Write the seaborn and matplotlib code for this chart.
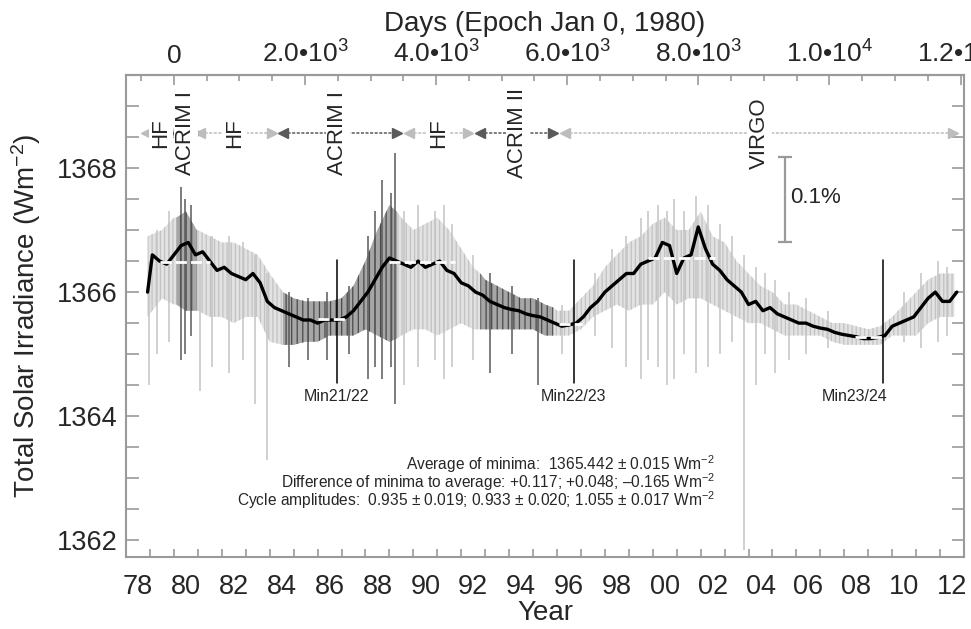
import numpy as np
import matplotlib
matplotlib.use("Agg")
import matplotlib.pyplot as plt
import seaborn as sns
from matplotlib.ticker import FixedLocator, MultipleLocator, NullFormatter

sns.set_style("white")
plt.rcParams["font.family"] = ["Liberation Sans", "DejaVu Sans"]
plt.rcParams["mathtext.fontset"] = "custom"
plt.rcParams["mathtext.rm"] = "Liberation Sans"
plt.rcParams["mathtext.it"] = "Liberation Sans:italic"
plt.rcParams["mathtext.bf"] = "Liberation Sans:bold"
plt.rcParams["hatch.linewidth"] = 0.9

# --- smoothed composite TSI (black line) ---
smooth_year = [1978.9, 1979.1, 1979.4, 1979.7, 1980.0, 1980.3, 1980.6, 1980.9,
               1981.2, 1981.5, 1981.8, 1982.1, 1982.4, 1982.7, 1983.0, 1983.3,
               1983.6, 1983.9, 1984.2, 1984.5, 1984.8, 1985.1, 1985.4, 1985.7,
               1986.0, 1986.3, 1986.6, 1986.9, 1987.2, 1987.5, 1987.8, 1988.1,
               1988.4, 1988.7, 1989.0, 1989.3, 1989.6, 1989.9, 1990.2, 1990.5,
               1990.8, 1991.1, 1991.4, 1991.7, 1992.0, 1992.3, 1992.6, 1992.9,
               1993.2, 1993.5, 1993.8, 1994.1, 1994.4, 1994.7, 1995.0, 1995.3,
               1995.6, 1995.9, 1996.2, 1996.5, 1996.8, 1997.1, 1997.4, 1997.7,
               1998.0, 1998.3, 1998.6, 1998.9, 1999.2, 1999.5, 1999.8, 2000.1,
               2000.4, 2000.7, 2001.0, 2001.3, 2001.6, 2001.9, 2002.2, 2002.5,
               2002.8, 2003.1, 2003.4, 2003.7, 2004.0, 2004.3, 2004.6, 2004.9,
               2005.2, 2005.5, 2005.8, 2006.1, 2006.4, 2006.7, 2007.0, 2007.3,
               2007.6, 2007.9, 2008.2, 2008.5, 2008.8, 2009.1, 2009.4, 2009.7,
               2010.0, 2010.3, 2010.6, 2010.9, 2011.2, 2011.5, 2011.8, 2012.1,
               2012.4, 2012.7]
smooth_tsi = [1366.0, 1366.6, 1366.5, 1366.45, 1366.6, 1366.75, 1366.8, 1366.6,
              1366.65, 1366.5, 1366.35, 1366.4, 1366.3, 1366.25, 1366.2, 1366.3,
              1366.15, 1365.85, 1365.75, 1365.7, 1365.65, 1365.6, 1365.55, 1365.55,
              1365.5, 1365.55, 1365.55, 1365.55, 1365.6, 1365.7, 1365.85, 1366.0,
              1366.2, 1366.4, 1366.55, 1366.5, 1366.45, 1366.4, 1366.5, 1366.4,
              1366.45, 1366.5, 1366.35, 1366.3, 1366.15, 1366.1, 1366.0, 1365.95,
              1365.85, 1365.8, 1365.75, 1365.72, 1365.7, 1365.65, 1365.62, 1365.6,
              1365.55, 1365.5, 1365.45, 1365.47, 1365.5, 1365.6, 1365.75, 1365.85,
              1366.0, 1366.1, 1366.2, 1366.3, 1366.3, 1366.45, 1366.5, 1366.55,
              1366.8, 1366.75, 1366.3, 1366.55, 1366.6, 1367.05, 1366.7, 1366.45,
              1366.35, 1366.2, 1366.1, 1366.0, 1365.8, 1365.85, 1365.7, 1365.75,
              1365.65, 1365.6, 1365.55, 1365.5, 1365.5, 1365.45, 1365.42, 1365.4,
              1365.35, 1365.32, 1365.3, 1365.28, 1365.25, 1365.25, 1365.27, 1365.3,
              1365.45, 1365.5, 1365.55, 1365.6, 1365.75, 1365.9, 1366.0, 1365.85,
              1365.85, 1366.0]

# --- spread of the daily values (grey band) ---
band_year = [1978.9, 1979.5, 1980.0, 1980.1, 1980.5, 1980.95, 1981.0, 1981.5, 1982.0,
             1982.5, 1983.0, 1983.5, 1984.0, 1984.55, 1985.0, 1985.5, 1986.0, 1986.5,
             1987.0, 1987.5, 1988.0, 1988.5, 1989.0, 1989.3, 1989.5, 1990.0, 1990.5,
             1991.0, 1991.5, 1992.0, 1992.5, 1992.8, 1993.0, 1993.5, 1994.0, 1994.5,
             1995.0, 1995.5, 1995.85, 1996.0, 1996.5, 1997.0, 1997.5, 1998.0, 1998.5,
             1999.0, 1999.5, 2000.0, 2000.5, 2001.0, 2001.5, 2002.0, 2002.5, 2003.0,
             2003.5, 2004.0, 2004.5, 2005.0, 2005.5, 2006.0, 2006.5, 2007.0, 2007.5,
             2008.0, 2008.5, 2009.0, 2009.5, 2010.0, 2010.5, 2011.0, 2011.5, 2012.0,
             2012.6]
band_high = [1366.9, 1367.0, 1367.2, 1367.2, 1367.3, 1367.0, 1367.0, 1366.9, 1366.8,
             1366.8, 1366.7, 1366.6, 1366.3, 1366.0, 1365.9, 1365.85, 1365.85, 1365.85,
             1365.9, 1366.1, 1366.5, 1367.0, 1367.4, 1367.3, 1367.2, 1367.0, 1367.1,
             1367.2, 1367.0, 1366.7, 1366.4, 1366.3, 1366.2, 1366.1, 1366.0, 1365.9,
             1365.9, 1365.8, 1365.75, 1365.7, 1365.7, 1365.9, 1366.1, 1366.4, 1366.6,
             1366.8, 1366.9, 1367.1, 1367.2, 1367.0, 1367.0, 1367.3, 1366.9, 1366.8,
             1366.5, 1366.3, 1366.1, 1366.0, 1365.8, 1365.8, 1365.7, 1365.6, 1365.5,
             1365.5, 1365.45, 1365.4, 1365.45, 1365.6, 1365.8, 1366.0, 1366.2, 1366.3,
             1366.3]
band_low = [1365.6, 1365.9, 1365.8, 1365.8, 1365.7, 1365.7, 1365.7, 1365.6, 1365.6,
            1365.5, 1365.6, 1365.6, 1365.2, 1365.15, 1365.15, 1365.2, 1365.2, 1365.3,
            1365.3, 1365.3, 1365.4, 1365.3, 1365.2, 1365.25, 1365.3, 1365.4, 1365.4,
            1365.3, 1365.4, 1365.5, 1365.4, 1365.4, 1365.4, 1365.4, 1365.4, 1365.4,
            1365.4, 1365.3, 1365.3, 1365.3, 1365.3, 1365.4, 1365.6, 1365.7, 1365.8,
            1365.7, 1365.8, 1365.8, 1366.0, 1365.8, 1365.9, 1365.9, 1365.8, 1365.7,
            1365.6, 1365.5, 1365.5, 1365.4, 1365.3, 1365.3, 1365.3, 1365.3, 1365.2,
            1365.15, 1365.15, 1365.15, 1365.15, 1365.3, 1365.3, 1365.3, 1365.5, 1365.6,
            1365.6]

# --- individual daily excursions (spikes) ---
spike_year = [1978.95, 1979.3, 1979.8, 1980.3, 1980.45, 1980.7, 1981.1, 1981.6,
              1982.3, 1982.9, 1983.4, 1983.9, 1984.8, 1985.6, 1986.4, 1987.3,
              1988.1, 1988.4, 1988.7, 1989.05, 1989.24, 1989.6, 1990.2, 1990.9,
              1991.3, 1991.6, 1992.5, 1993.2, 1994.1, 1995.2, 1996.2, 1997.6,
              1998.3, 1998.9, 1999.5, 1999.8, 2000.2, 2000.6, 2000.9, 2001.3,
              2001.8, 2002.3, 2002.8, 2003.3, 2003.83, 2004.3, 2004.7, 2005.1,
              2005.7, 2006.4, 2007.3, 2010.5, 2011.2, 2011.9, 2012.3]
spike_low = [1364.5, 1365.0, 1365.2, 1364.9, 1365.0, 1365.3, 1364.4, 1364.8,
             1364.7, 1364.9, 1364.2, 1363.3, 1364.8, 1364.9, 1364.9, 1365.0,
             1364.6, 1364.8, 1364.6, 1364.8, 1364.2, 1364.5, 1364.8, 1364.9,
             1364.6, 1364.8, 1364.9, 1364.7, 1365.0, 1364.5, 1365.0, 1365.3,
             1365.1, 1364.8, 1364.6, 1364.9, 1364.8, 1364.5, 1364.6, 1365.0,
             1364.7, 1364.8, 1365.0, 1365.2, 1361.85, 1364.5, 1365.0, 1364.7,
             1364.9, 1365.0, 1365.1, 1365.2, 1365.1, 1365.2, 1365.3]
spike_high = [1366.5, 1367.0, 1367.3, 1367.7, 1367.5, 1367.4, 1366.6, 1366.9,
              1366.9, 1366.8, 1366.6, 1366.3, 1366.0, 1365.9, 1366.0, 1366.1,
              1366.9, 1367.3, 1367.8, 1367.6, 1368.25, 1367.3, 1367.4, 1367.3,
              1367.4, 1367.1, 1366.6, 1366.3, 1366.1, 1365.9, 1365.8, 1366.3,
              1366.7, 1366.9, 1367.2, 1367.3, 1367.4, 1367.3, 1367.5, 1367.3,
              1367.55, 1367.4, 1367.1, 1366.9, 1366.6, 1366.4, 1366.3, 1366.2,
              1366.0, 1365.9, 1365.7, 1366.0, 1366.3, 1366.5, 1366.4]

# --- instruments used in the composite ---
instr_name = ["HF", "ACRIM I", "HF", "ACRIM I", "HF", "ACRIM II", "VIRGO"]
instr_start = [1978.85, 1980.1, 1981.1, 1984.55, 1989.8, 1992.8, 1996.35]
instr_end = [1980.1, 1980.95, 1984.1, 1989.3, 1992.3, 1995.85, 2012.55]
instr_label_x = [1979.45, 1980.5, 1982.55, 1986.85, 1991.05, 1994.35, 2004.47]
acrim_periods = [(1980.1, 1980.95), (1984.55, 1989.3), (1992.8, 1995.85)]

# --- solar minima and maxima levels ---
min_names = ["Min21/22", "Min22/23", "Min23/24"]
min_year = [1986.8, 1996.7, 2009.6]
min_label_x = [1986.8, 1996.7, 2008.45]
min_level = [1365.559, 1365.490, 1365.277]
min_span = [(1986.0, 1987.15), (1996.1, 1997.05), (2008.45, 2009.7)]
max_level = [1366.49, 1366.49, 1366.545]
max_span = [(1979.4, 1981.5), (1989.0, 1991.75), (1999.8, 2002.6)]

year_labels = ["78", "80", "82", "84", "86", "88", "90", "92", "94",
               "96", "98", "00", "02", "04", "06", "08", "10", "12"]
day_ticks = [0, 2000, 4000, 6000, 8000, 10000, 12000]
day_labels = ["0", "2.0•10$^{3}$", "4.0•10$^{3}$", "6.0•10$^{3}$",
              "8.0•10$^{3}$", "1.0•10$^{4}$", "1.2•10$^{4}$"]

stats_lines = [
    "Average of minima:  1365.442 $\\pm$ 0.015 Wm$^{-2}$",
    "Difference of minima to average: +0.117; +0.048; \u20130.165 Wm$^{-2}$",
    "Cycle amplitudes:  0.935 $\\pm$ 0.019; 0.933 $\\pm$ 0.020; 1.055 $\\pm$ 0.017 Wm$^{-2}$",
]


def in_acrim(y):
    return any(a <= y <= b for a, b in acrim_periods)


axis_grey = "#9a9a9a"
light = "#e2e2e2"
dark = "#5a5a5a"

fig = plt.figure(figsize=(9.71, 6.29), dpi=100)
ax = fig.add_axes([0.1298, 0.1145, 0.863, 0.7663])

# daily spread, drawn as a vertical hatch to mimic the daily data
by = np.array(band_year)
acr = np.array([in_acrim(y) for y in band_year])
ax.fill_between(by, band_low, band_high, facecolor=light, edgecolor="#c2c2c2",
                hatch="||||", lw=0, zorder=1)
ax.fill_between(by, band_low, band_high, where=acr, facecolor="#a6a6a6",
                edgecolor="#4a4a4a", hatch="|||", lw=0, zorder=1.5)
spike_cols = [dark if in_acrim(y) else "#c4c4c4" for y in spike_year]
ax.vlines(spike_year, spike_low, spike_high, colors=spike_cols, lw=1.1, zorder=1.6)

# smoothed composite
sns.lineplot(x=smooth_year, y=smooth_tsi, color="black", lw=2.4, ax=ax, zorder=3)

# minima / maxima levels
for (a, b), lev in zip(min_span + max_span, min_level + max_level):
    ax.plot([a, b], [lev, lev], color="white", lw=2, dashes=(4, 1.5), zorder=4)

for name, yr, lx in zip(min_names, min_year, min_label_x):
    ax.plot([yr, yr], [1364.54, 1366.51], color="black", lw=1.1, zorder=3.5)
    ax.text(lx, 1364.32, name, ha="center", va="center", fontsize=11.5)

# instrument bars
y_instr = 1368.56
for name, a, b, lx in zip(instr_name, instr_start, instr_end, instr_label_x):
    c = dark if name.startswith("ACRIM") else "#bdbdbd"
    ax.plot([a, b], [y_instr, y_instr], color=c, lw=1.1, ls=(0, (2, 1)), zorder=2)
    ax.plot([a], [y_instr], marker="<", color=c, ms=7, zorder=2)
    ax.plot([b], [y_instr], marker=">", color=c, ms=7, zorder=2)
    ax.text(lx, y_instr, name, rotation=90, ha="center", va="center", fontsize=16,
            bbox=dict(facecolor="white", edgecolor="none", pad=1), zorder=5)

# 0.1 % scale bar
ax.errorbar([2005.52], [1367.49], yerr=[[0.683], [0.683]], fmt="none",
            ecolor=axis_grey, elinewidth=1.6, capsize=5, capthick=1.6)
ax.text(2005.75, 1367.53, "0.1%", ha="left", va="center", fontsize=16)

# statistics text
for i, line in enumerate(stats_lines):
    ax.text(2002.6, 1363.22 - 0.29 * i, line, ha="right", va="center", fontsize=11.2)

# axes
ax.set_xlim(1978.0, 2013.0)
ax.set_ylim(1361.73, 1369.5)
for sp in ax.spines.values():
    sp.set_color(axis_grey)
    sp.set_linewidth(1.5)

ax.xaxis.set_major_locator(FixedLocator(np.arange(1978, 2014)))
ax.xaxis.set_major_formatter(NullFormatter())
ax.xaxis.set_minor_locator(FixedLocator([1978.5 + 2 * i for i in range(len(year_labels))]))
ax.set_xticklabels(year_labels, minor=True)
ax.tick_params(axis="x", which="major", direction="in", length=6, width=1.2,
               color=axis_grey, top=False, bottom=True)
ax.tick_params(axis="x", which="minor", length=0, pad=12, labelsize=19.5)

ax.yaxis.set_major_locator(FixedLocator([1362, 1364, 1366, 1368]))
ax.yaxis.set_minor_locator(MultipleLocator(0.5))
ax.tick_params(axis="y", which="both", direction="in", left=True, right=True,
               color=axis_grey, width=1.2)
ax.tick_params(axis="y", which="major", length=9, labelsize=19.5, pad=6)
ax.tick_params(axis="y", which="minor", length=9)

ax.set_xlabel("Year", fontsize=20, labelpad=0)
ax.set_ylabel("Total Solar Irradiance (Wm$^{-2}$)", fontsize=20, labelpad=10)

top = ax.secondary_xaxis("top", functions=(lambda y: (y - 1980.0) * 365.25,
                                           lambda d: d / 365.25 + 1980.0))
top.set_xticks(day_ticks)
top.set_xticklabels(day_labels)
top.xaxis.set_minor_locator(MultipleLocator(500))
top.tick_params(which="both", direction="in", color=axis_grey, width=1.2)
top.tick_params(which="major", length=7, labelsize=19, pad=5)
top.tick_params(which="minor", length=4)
top.spines["top"].set_color(axis_grey)
top.spines["top"].set_linewidth(1.5)
top.set_xlabel("Days (Epoch Jan 0, 1980)", fontsize=20, labelpad=7)

fig.savefig("out.png", dpi=100, facecolor="white")
